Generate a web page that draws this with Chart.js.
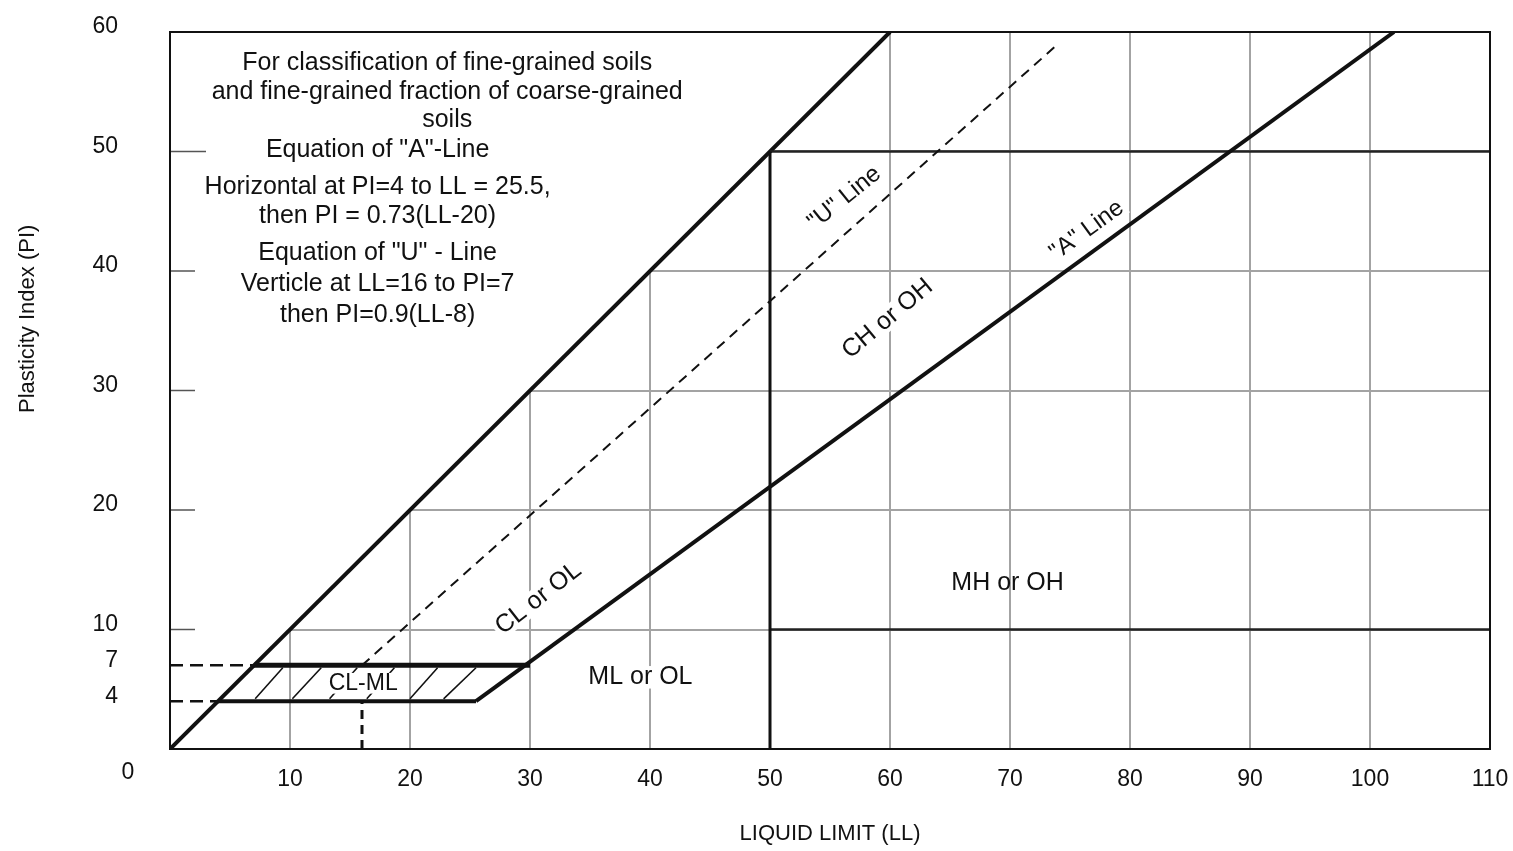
<!DOCTYPE html>
<html>
<head>
<meta charset="utf-8">
<script src="https://cdn.jsdelivr.net/npm/chart.js@4.4.1/dist/chart.umd.min.js"></script>
<style>
  html, body { margin: 0; padding: 0; background: #fff; }
  #wrap { width: 1513px; height: 851px; }
</style>
</head>
<body>
<div id="wrap"><canvas id="plasticity"></canvas></div>
<script>
// tick positions on both axes
const llTicks = [0, 10, 20, 30, 40, 50, 60, 70, 80, 90, 100, 110];
const piTicks = [0, 4, 7, 10, 20, 30, 40, 50, 60];

// chart lines, each as [LL, PI] points
const uLineSolid = [[0, 0], [60, 60]];
const uLineDashed = [[16, 7], [74, 59]];
const uLineFoot = [[16, 0], [16, 4]];
const aLine = [[25.5, 4], [102, 60]];
const clmlTop = [[7, 7], [30, 7]];
const clmlBottom = [[4, 4], [25.5, 4]];
const pi7Guide = [[0, 7], [7, 7]];
const pi4Guide = [[0, 4], [4, 4]];
const ll50Line = [[50, 0], [50, 50]];
const pi50Line = [[50, 50], [110, 50]];
const pi10Line = [[50, 10], [110, 10]];
const hatchSegments = [
  [[7.1, 4.2], [9.4, 6.8]],
  [[10.2, 4.2], [12.6, 6.8]],
  [[13.3, 4.2], [15.6, 6.8]],
  [[16.4, 4.2], [18.7, 6.8]],
  [[20.0, 4.2], [22.3, 6.8]],
  [[22.8, 4.2], [25.5, 6.8]]
];

// text in the plot
const noteLines = [
  { text: 'For classification of fine-grained soils', ll: 23.1, pi: 57.4 },
  { text: 'and fine-grained fraction of coarse-grained', ll: 23.1, pi: 55.0 },
  { text: 'soils', ll: 23.1, pi: 52.6 },
  { text: 'Equation of "A"-Line', ll: 17.3, pi: 50.1 },
  { text: 'Horizontal at PI=4 to LL = 25.5,', ll: 17.3, pi: 47.0 },
  { text: 'then PI = 0.73(LL-20)', ll: 17.3, pi: 44.6 },
  { text: 'Equation of "U" - Line', ll: 17.3, pi: 41.5 },
  { text: 'Verticle at LL=16 to PI=7', ll: 17.3, pi: 38.9 },
  { text: 'then PI=0.9(LL-8)', ll: 17.3, pi: 36.3 }
];
const zoneLabels = [
  { text: 'CL or OL', ll: 30.7, pi: 12.6, angle: -38, size: 25, bg: true },
  { text: 'CH or OH', ll: 59.8, pi: 36.0, angle: -40, size: 25, bg: true },
  { text: '"U" Line', ll: 56.2, pi: 46.1, angle: -39, size: 24, bg: true },
  { text: '"A" Line', ll: 76.4, pi: 43.4, angle: -36, size: 24, bg: true },
  { text: 'ML or OL', ll: 39.2, pi: 6.0, angle: 0, size: 25, bg: true },
  { text: 'MH or OH', ll: 69.8, pi: 13.9, angle: 0, size: 25, bg: false },
  { text: 'CL-ML', ll: 16.1, pi: 5.5, angle: 0, size: 23, bg: true }
];

const FONT = 'Arial, "Liberation Sans", sans-serif';
const INK = '#111';
const GRID = '#a3a3a3';

function pts(arr) {
  return arr.map(p => ({ x: p[0], y: p[1] }));
}
function seg(data, width, dash, extra) {
  return Object.assign({
    data: pts(data),
    borderColor: INK,
    borderWidth: width,
    borderDash: dash || [],
    pointRadius: 0,
    fill: false,
    tension: 0,
    order: 0
  }, extra || {});
}
// drop the label overhang padding so layout.padding alone fixes the plot box
function noPad(s) {
  s.paddingTop = 0; s.paddingBottom = 0; s.paddingLeft = 0; s.paddingRight = 0;
}

const datasets = [
  // solid U line, fills white above it to hide the grid there
  seg(uLineSolid, 4, null, { fill: 'end', backgroundColor: '#ffffff', order: 10 }),
  seg(aLine, 4),
  seg(uLineDashed, 2, [10, 7]),
  seg(uLineFoot, 3, [9, 6]),
  seg(clmlTop, 5),
  seg(clmlBottom, 4),
  seg(pi7Guide, 2.5, [13, 7]),
  seg(pi4Guide, 2.5, [13, 7]),
  seg(ll50Line, 3),
  seg(pi50Line, 2.5, null, { borderColor: '#222' }),
  seg(pi10Line, 2.5, null, { borderColor: '#222' })
];
hatchSegments.forEach(h => datasets.push(seg(h, 1.6)));

const decorations = {
  id: 'decorations',
  afterDatasetsDraw(chart) {
    const { ctx, chartArea: a, scales: { x, y } } = chart;
    ctx.save();

    // short inner ticks on the PI axis
    ctx.strokeStyle = '#555';
    ctx.lineWidth = 1.5;
    [10, 20, 30, 40, 50].forEach(v => {
      const py = y.getPixelForValue(v);
      ctx.beginPath();
      ctx.moveTo(a.left, py);
      ctx.lineTo(a.left + (v === 50 ? 36 : 25), py);
      ctx.stroke();
    });

    // frame
    ctx.strokeStyle = INK;
    ctx.lineWidth = 2;
    ctx.strokeRect(a.left, a.top, a.right - a.left, a.bottom - a.top);

    // note block
    ctx.fillStyle = INK;
    ctx.font = '25px ' + FONT;
    ctx.textAlign = 'center';
    ctx.textBaseline = 'middle';
    noteLines.forEach(l => {
      ctx.fillText(l.text, x.getPixelForValue(l.ll), y.getPixelForValue(l.pi));
    });

    // zone labels
    zoneLabels.forEach(l => {
      ctx.save();
      ctx.translate(x.getPixelForValue(l.ll), y.getPixelForValue(l.pi));
      ctx.rotate(l.angle * Math.PI / 180);
      ctx.font = l.size + 'px ' + FONT;
      if (l.bg) {
        const w = ctx.measureText(l.text).width;
        ctx.fillStyle = '#fff';
        ctx.fillRect(-w / 2 - 3, -l.size * 0.45, w + 6, l.size * 0.9);
      }
      ctx.fillStyle = INK;
      ctx.fillText(l.text, 0, 0);
      ctx.restore();
    });

    // corner zero and PI title
    ctx.font = '23px ' + FONT;
    ctx.fillText('0', a.left - 42, a.bottom + 24);
    ctx.font = '22px ' + FONT;
    ctx.translate(28, a.top + (a.bottom - a.top) * 0.4);
    ctx.rotate(-Math.PI / 2);
    ctx.fillText('Plasticity Index (PI)', 0, 0);
    ctx.restore();
  }
};

new Chart(document.getElementById('plasticity'), {
  type: 'line',
  data: { datasets: datasets },
  options: {
    responsive: true,
    maintainAspectRatio: false,
    animation: false,
    events: [],
    layout: { padding: { top: 32, right: 23, left: 0, bottom: 0 } },
    plugins: { legend: { display: false }, tooltip: { enabled: false } },
    scales: {
      x: {
        type: 'linear',
        min: 0,
        max: 110,
        afterBuildTicks: s => { s.ticks = llTicks.map(v => ({ value: v })); },
        afterFit: s => { s.height = 102; noPad(s); },
        border: { display: false },
        grid: { color: GRID, lineWidth: 2, drawTicks: false },
        ticks: {
          padding: 17,
          color: INK,
          font: { family: FONT, size: 23 },
          maxRotation: 0,
          callback: v => (v === 0 ? '' : String(v))
        },
        title: {
          display: true,
          text: 'LIQUID LIMIT (LL)',
          color: INK,
          font: { family: FONT, size: 22 },
          padding: { top: 0, bottom: 4 }
        }
      },
      y: {
        type: 'linear',
        min: 0,
        max: 60,
        afterBuildTicks: s => { s.ticks = piTicks.map(v => ({ value: v })); },
        afterFit: s => { s.width = 170; noPad(s); },
        border: { display: false },
        grid: {
          color: c => (c.tick && (c.tick.value === 4 || c.tick.value === 7) ? 'rgba(0,0,0,0)' : GRID),
          lineWidth: 2,
          drawTicks: false
        },
        ticks: {
          padding: 52,
          labelOffset: -5,
          color: INK,
          font: { family: FONT, size: 23 },
          callback: v => (v === 0 ? '' : String(v))
        }
      }
    }
  },
  plugins: [decorations]
});
</script>
</body>
</html>
